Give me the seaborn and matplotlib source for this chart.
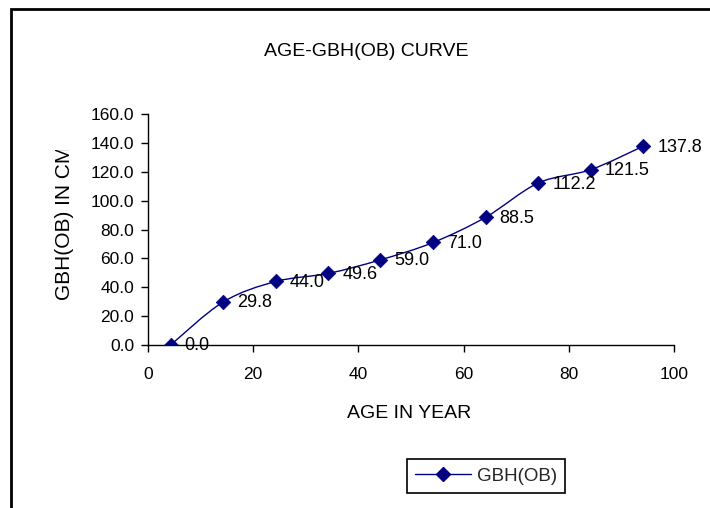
import numpy as np
import pandas as pd
import matplotlib
matplotlib.use("Agg")
import matplotlib.pyplot as plt
import seaborn as sns
from matplotlib.path import Path
from matplotlib.patches import PathPatch, Rectangle
from matplotlib.lines import Line2D
from matplotlib.transforms import Bbox, TransformedBbox

# ---- data ----
age = [4.3, 14.3, 24.3, 34.3, 44.2, 54.2, 64.2, 74.2, 84.2, 94.2]
gbh = [0.0, 29.8, 44.0, 49.6, 59.0, 71.0, 88.5, 112.2, 121.5, 137.8]
series_name = "GBH(OB)"
title = "AGE-GBH(OB) CURVE"
xlabel = "AGE IN YEAR"
ylabel = "GBH(OB) IN CM"
x_ticks = [0, 20, 40, 60, 80, 100]
y_ticks = [0, 20, 40, 60, 80, 100, 120, 140, 160]

df = pd.DataFrame({"age": age, "gbh": gbh})
NAVY = "#000080"

sns.set_theme(style="white")
plt.rcParams['font.family'] = ['Liberation Sans', 'DejaVu Sans']

W, H = 710, 508
fig = plt.figure(figsize=(W / 100, H / 100), dpi=100)
fig.patch.set_facecolor("white")
ax = fig.add_axes([148 / W, 1 - 345 / H, (674 - 148) / W, (345 - 114) / H])
ax.set_facecolor("white")

# smoothed line (Excel-style Bezier through the data points)
P = df[["age", "gbh"]].to_numpy(dtype=float)
n = len(P)
verts = [P[0]]
codes = [Path.MOVETO]
for i in range(n - 1):
    p0 = P[i - 1] if i > 0 else P[i]
    p1 = P[i]
    p2 = P[i + 1]
    p3 = P[i + 2] if i + 2 < n else P[i + 1]
    c1 = p1 + (p2 - p0) / 6.0
    c2 = p2 - (p3 - p1) / 6.0
    verts += [c1, c2, p2]
    codes += [Path.CURVE4] * 3
ax.add_patch(PathPatch(Path(verts, codes), facecolor="none", edgecolor=NAVY, lw=1.0, zorder=2))

sns.scatterplot(data=df, x="age", y="gbh", marker="D", s=55, color=NAVY,
                edgecolor=NAVY, linewidth=0.5, ax=ax, zorder=3, legend=False)

for xv, yv in zip(age, gbh):
    ax.annotate(f"{yv:.1f}", (xv, yv), xytext=(14, -1), textcoords="offset pixels",
                ha="left", va="center", fontsize=13, color="black", zorder=4)

ax.set_xlim(0, 100)
ax.set_ylim(0, 160)
ax.set_xticks(x_ticks)
ax.set_yticks(y_ticks)
ax.set_yticklabels([f"{v:.1f}" for v in y_ticks])
for s in ["top", "right"]:
    ax.spines[s].set_visible(False)
for s in ["left", "bottom"]:
    ax.spines[s].set_color("black")
    ax.spines[s].set_linewidth(1.0)
ax.tick_params(axis="both", direction="out", length=5, width=1, color="black",
               labelsize=12.5, labelcolor="black", bottom=True, left=True)
ax.tick_params(axis="y", pad=5)
ax.tick_params(axis="x", pad=11)

ax.set_xlabel(xlabel, fontsize=14, color="black", va="center")
ax.xaxis.set_label_coords((409 - 148) / (674 - 148), (345 - 414) / (345 - 114))
ax.set_ylabel("")

fig.text(366 / W, 1 - 51 / H, title, ha="center", va="center", fontsize=14, color="black")

yl = fig.text(64.5 / W, 1 - 300 / H, ylabel, rotation=90, ha="center", va="bottom",
              fontsize=15, color="black", clip_on=True)
yl.set_clip_box(TransformedBbox(Bbox([[0, 0], [1, 1 - 150 / H]]), fig.transFigure))

handle = Line2D([0], [0], color=NAVY, lw=1.0, marker="D", markersize=7.5,
                markerfacecolor=NAVY, markeredgecolor=NAVY)
leg = ax.legend(handles=[handle], labels=[series_name], loc="center",
                bbox_to_anchor=(486 / W, 1 - 476 / H), bbox_transform=fig.transFigure,
                frameon=True, fancybox=False, framealpha=1, edgecolor="black",
                handlelength=3.0, handletextpad=0.3, borderpad=0.45, fontsize=13.5)
leg.get_frame().set_linewidth(1.2)

fig.add_artist(Rectangle((11 / W, -0.1), 1.2, (1 - 9 / H) + 0.1, transform=fig.transFigure,
                         fill=False, lw=2, ec="black", clip_on=False))

fig.savefig("out.png", dpi=100, facecolor="white")
